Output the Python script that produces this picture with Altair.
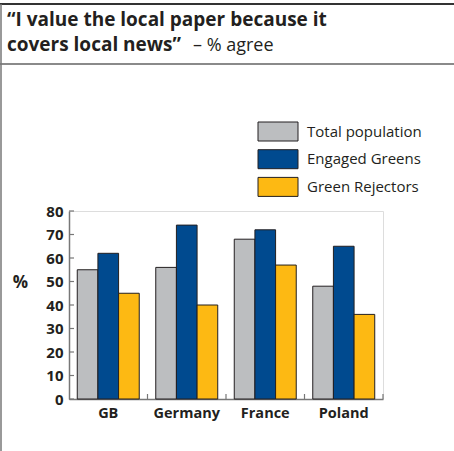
import altair as alt
import pandas as pd

# ---- data ----
countries = ["GB", "Germany", "France", "Poland"]
series = ["Total population", "Engaged Greens", "Green Rejectors"]
total_population = [55, 56, 68, 48]
engaged_greens = [62, 74, 72, 65]
green_rejectors = [45, 40, 57, 36]
y_ticks = [0, 10, 20, 30, 40, 50, 60, 70, 80]
colors = ["#bcbec0", "#004a8f", "#fdb913"]

title_line1 = "\u201cI value the local paper because it"
title_line2_bold = "covers local news\u201d"
title_line2_reg = "\u2013 % agree"

rows = []
for s, vals in zip(series, [total_population, engaged_greens, green_rejectors]):
    for c, v in zip(countries, vals):
        rows.append({"country": c, "series": s, "value": v})
df = pd.DataFrame(rows)

FONT = "Open Sans"
TXT = "#231f20"
W, H = 314, 188

xscale = alt.Scale(domain=countries, paddingInner=0, paddingOuter=0)
yscale = alt.Scale(domain=[0, 80])
cscale = alt.Scale(domain=series, range=colors)

x_axis = alt.Axis(title=None, labelAngle=0, ticks=False, labelFont=FONT,
                  labelFontWeight="bold", labelFontSize=14.5, labelColor=TXT,
                  labelPadding=7, domainColor="#777777", domainWidth=1.5, grid=False)
y_axis = alt.Axis(values=y_ticks, tickCount=9, labelOverlap=False, title="%", titleAngle=0,
                  titleX=-49, titleY=71,
                  titleAlign="center", titleBaseline="middle", titleFont=FONT,
                  titleFontSize=17, titleFontWeight="bold", titleColor=TXT,
                  ticks=False, grid=False, labelFont=FONT, labelFontWeight="bold",
                  labelFontSize=15, labelColor=TXT, labelPadding=6,
                  domainColor="#777777", domainWidth=1.5)

bars = alt.Chart(df).mark_bar(stroke=TXT, strokeWidth=1).encode(
    x=alt.X("country:N", sort=countries, scale=xscale, axis=x_axis),
    xOffset=alt.XOffset("series:N", sort=series,
                        scale=alt.Scale(domain=series, paddingInner=0, paddingOuter=0.4)),
    y=alt.Y("value:Q", scale=yscale, axis=y_axis),
    color=alt.Color("series:N", scale=cscale, legend=None),
)

ytick_df = pd.DataFrame({"value": y_ticks})
yticks = alt.Chart(ytick_df).mark_rule(color="#777777", strokeWidth=1.2).encode(
    y=alt.Y("value:Q", scale=yscale, axis=y_axis),
    x=alt.value(0), x2=alt.value(5),
)

xtick_df = pd.DataFrame({"country": countries})
xticks = alt.Chart(xtick_df).mark_rule(color="#777777", strokeWidth=1.2).encode(
    x=alt.X("country:N", sort=countries, scale=xscale, bandPosition=1, axis=x_axis),
    y=alt.value(H), y2=alt.value(H - 5),
)

leg_df = pd.DataFrame({"series": series, "idx": [0, 1, 2]})
leg_base = alt.Chart(leg_df).transform_calculate(
    ly="datum.idx * 27.7 - 89", ly2="datum.idx * 27.7 - 70", lt="datum.idx * 27.7 - 79.5"
)
leg_rect = leg_base.mark_rect(stroke=TXT, strokeWidth=1).encode(
    x=alt.value(189), x2=alt.value(229),
    y=alt.Y("ly:Q", scale=None), y2="ly2:Q",
    color=alt.Color("series:N", scale=cscale, legend=None),
)
leg_text = leg_base.mark_text(align="left", baseline="middle", font=FONT, fontSize=15,
                              color=TXT).encode(
    x=alt.value(238), y=alt.Y("lt:Q", scale=None), text="series:N",
)

one = pd.DataFrame({"a": [0]})
t1 = alt.Chart(one).mark_text(align="left", baseline="alphabetic", font=FONT,
                              fontWeight="bold", fontSize=19, color=TXT).encode(
    x=alt.value(-62), y=alt.value(-185), text=alt.value(title_line1))
t2 = alt.Chart(one).mark_text(align="left", baseline="alphabetic", font=FONT,
                              fontWeight="bold", fontSize=19, color=TXT).encode(
    x=alt.value(-62), y=alt.value(-160), text=alt.value(title_line2_bold))
t3 = alt.Chart(one).mark_text(align="left", baseline="alphabetic", font=FONT,
                              fontSize=18, color=TXT).encode(
    x=alt.value(124), y=alt.value(-160), text=alt.value(title_line2_reg))

top_line = alt.Chart(one).mark_rule(color="#333333", strokeWidth=2).encode(
    x=alt.value(-69), x2=alt.value(385), y=alt.value(-207))
sep_line = alt.Chart(one).mark_rule(color="#8a8a8a", strokeWidth=2).encode(
    x=alt.value(-69), x2=alt.value(385), y=alt.value(-147))
left_line = alt.Chart(one).mark_rule(color="#777777", strokeWidth=1.5).encode(
    x=alt.value(-68), y=alt.value(-207), y2=alt.value(245))

chart = alt.layer(
    bars, yticks, xticks, leg_rect, leg_text, t1, t2, t3, top_line, sep_line, left_line
).properties(
    width=W, height=H,
    autosize=alt.AutoSizeParams(type="none"),
    padding={"left": 69, "top": 211, "right": 71, "bottom": 52},
).configure_view(stroke=None).configure(background="white")

chart.save("out.html", embed_options={"renderer": "svg", "actions": False})
